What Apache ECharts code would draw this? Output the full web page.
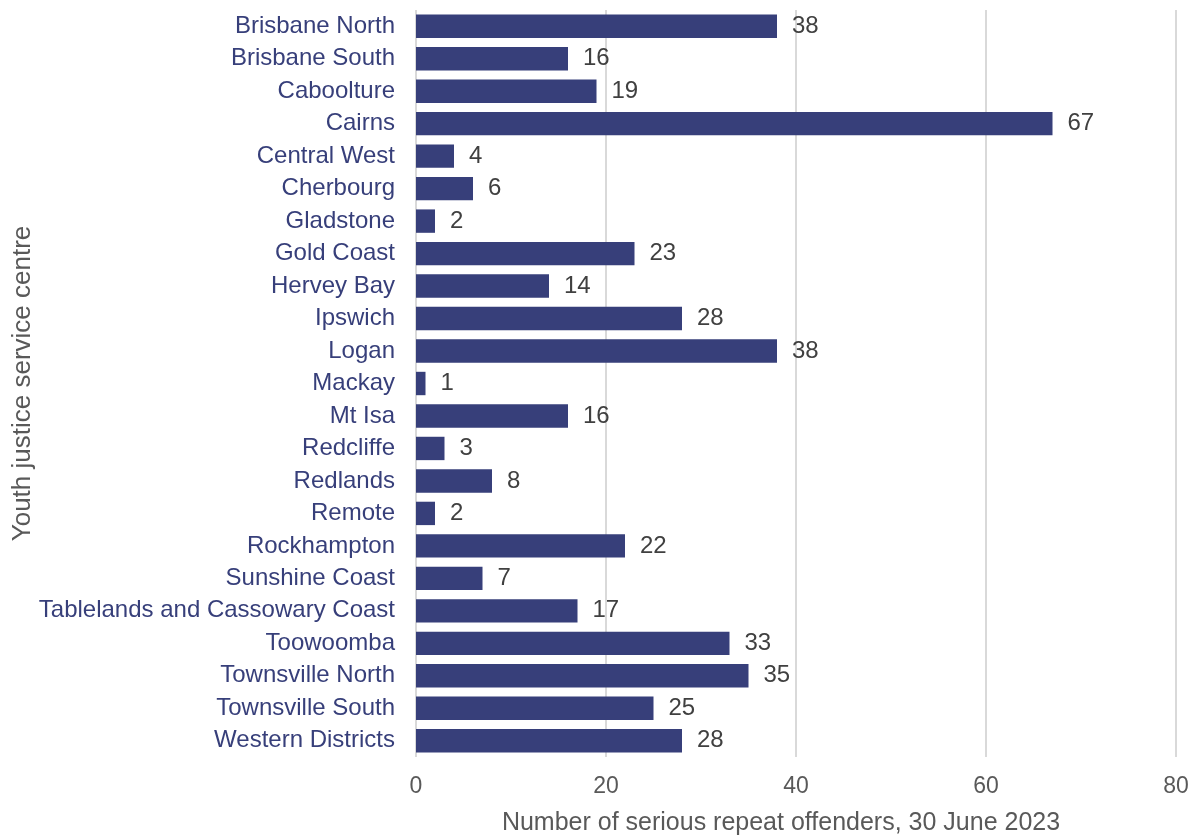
<!DOCTYPE html>
<html>
<head>
<meta charset="utf-8">
<script src="https://cdn.jsdelivr.net/npm/echarts@6/dist/echarts.min.js"></script>
<style>
  html, body { margin: 0; padding: 0; background: #fff; }
  #chart { width: 1200px; height: 838px; }
</style>
</head>
<body>
<div id="chart"></div>
<script>
// Serious repeat offenders by youth justice service centre
const centres = [
  'Brisbane North', 'Brisbane South', 'Caboolture', 'Cairns', 'Central West',
  'Cherbourg', 'Gladstone', 'Gold Coast', 'Hervey Bay', 'Ipswich', 'Logan',
  'Mackay', 'Mt Isa', 'Redcliffe', 'Redlands', 'Remote', 'Rockhampton',
  'Sunshine Coast', 'Tablelands and Cassowary Coast', 'Toowoomba',
  'Townsville North', 'Townsville South', 'Western Districts'
];
const offenders = [38, 16, 19, 67, 4, 6, 2, 23, 14, 28, 38, 1, 16, 3, 8, 2, 22, 7, 17, 33, 35, 25, 28];
const xTicks = [0, 20, 40, 60, 80];

const FONT = '"Liberation Sans", Arial, sans-serif';
const chart = echarts.init(document.getElementById('chart'));
chart.setOption({
  animation: false,
  grid: { left: 416, right: 24, top: 10, bottom: 81, containLabel: false, outerBoundsMode: 'none' },
  xAxis: {
    type: 'value',
    min: xTicks[0],
    max: xTicks[xTicks.length - 1],
    interval: 20,
    name: 'Number of serious repeat offenders, 30 June 2023',
    nameLocation: 'middle',
    nameGap: 54,
    nameMoveOverlap: false,
    nameTextStyle: { fontFamily: FONT, fontSize: 25, color: '#595959', padding: [0, 30, 0, 0] },
    axisLine: { show: false },
    axisTick: { show: false },
    axisLabel: { fontFamily: FONT, fontSize: 23, color: '#595959', margin: 18 },
    splitLine: { show: true, lineStyle: { color: '#d9d9d9', width: 2 } }
  },
  yAxis: {
    type: 'category',
    data: centres,
    inverse: true,
    name: 'Youth justice service centre',
    nameLocation: 'middle',
    nameGap: 380,
    nameRotate: 90,
    nameMoveOverlap: false,
    nameTextStyle: { fontFamily: FONT, fontSize: 26, color: '#595959' },
    axisLine: { show: false },
    axisTick: { show: false },
    axisLabel: { fontFamily: FONT, fontSize: 24, color: '#373f7a', margin: 21, padding: [4, 0, 0, 0] }
  },
  series: [{
    type: 'bar',
    data: offenders,
    barCategoryGap: '28%',
    itemStyle: { color: '#373f7a' },
    label: {
      show: true,
      position: 'right',
      distance: 15,
      padding: [4, 0, 0, 0],
      fontFamily: FONT,
      fontSize: 24,
      color: '#404040'
    }
  }]
});
</script>
</body>
</html>
